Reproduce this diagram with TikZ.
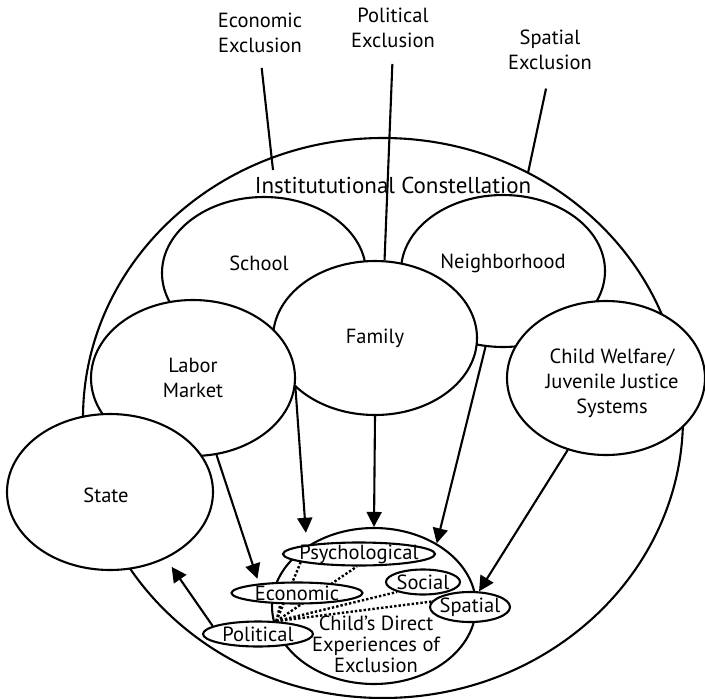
\documentclass[tikz,border=0pt]{standalone}
\usepackage{fontspec}
\setmainfont{PT Sans}
\usetikzlibrary{shapes.geometric,arrows.meta}
\pgfdeclarelayer{back}
\pgfdeclarelayer{mid}
\pgfsetlayers{back,mid,main}
\begin{document}
\begin{tikzpicture}[x=1pt,y=-1pt,
  every node/.style={font=\fontsize{20.5}{25}\selectfont},
  circ/.style={ellipse, draw, line width=2.1pt, fill=white, inner sep=0pt, align=center},
  sub/.style={ellipse, draw, line width=2.1pt, fill=white, inner sep=0pt},
  lbl/.style={align=center},
  toplbl/.style={align=center, inner sep=0pt, anchor=south},
  arr/.style={line width=2.1pt, -{Triangle[length=15pt,width=15pt]}},
  dots/.style={line width=2.4pt, dotted},
  plain/.style={line width=2.1pt}]

\useasboundingbox (0,0) rectangle (705,699);

\begin{pgfonlayer}{back}
\node[circ, fill=none, minimum width=600pt, minimum height=560pt] (inst) at (383,418) {};
\node[circ, minimum width=204pt, minimum height=152pt] (school) at (264,273) {};
\node[circ, minimum width=204pt, minimum height=152pt] (nbh) at (503,271) {};
\node[circ, minimum width=204pt, minimum height=154pt] (fam) at (375,338) {Family};
\node[circ, minimum width=204pt, minimum height=156pt] (lm) at (193,378) {Labor\\Market};
\node[circ, minimum width=198pt, minimum height=154pt] (cw) at (606,378) {};
\node[circ, minimum width=206pt, minimum height=156pt] (state) at (110,492) {};
\node[circ, minimum width=204pt, minimum height=156pt] (child) at (374,606) {};
\node[lbl] (schooltxt) at (259,263) {School};
\node[lbl] (nbhtxt) at (503,263) {Neighborhood};
\node[lbl] (cwtxt) at (612,383) {Child Welfare/\\Juvenile Justice\\Systems};
\node[lbl] (statetxt) at (106,495) {State};
\node[lbl, font=\fontsize{20.5}{21}\selectfont] (childtxt) at (376,644) {Child’s Direct\\Experiences of\\Exclusion};
\end{pgfonlayer}

\node[sub, minimum width=152pt, minimum height=23pt] (psy) at (359,554) {};
\node[sub, minimum width=131pt, minimum height=21pt] (econ) at (297,593) {};
\node[sub, minimum width=74pt, minimum height=25pt] (soc) at (423,582) {};
\node[sub, minimum width=80pt, minimum height=30pt] (spat) at (470,607) {};
\node[sub, minimum width=110pt, minimum height=25pt] (pol) at (258,634) {};
\node (psytxt) at (psy) {Psychological};
\node (econtxt) at (econ) {Economic};
\node (soctxt) at (soc) {Social};
\node (spattxt) at (spat) {Spatial};
\node (poltxt) at (pol) {Political};

\begin{pgfonlayer}{mid}
\draw[dots] (pol.35) -- (econ.-146);
\draw[dots] (pol.35) -- (psy.-172);
\draw[dots] (pol.35) -- (psy.-100);
\draw[dots] (pol.35) -- (soc.-159);
\draw[dots] (pol.35) -- (spat.172);
\end{pgfonlayer}

\node[toplbl] (econlbl) at (260,53) {Economic\\Exclusion};
\node[toplbl] (pollbl) at (393,48) {Political\\Exclusion};
\node[toplbl] (spatlbl) at (550,70) {Spatial\\Exclusion};
\node (insttxt) at (393,185) {\fontsize{23}{27}\selectfont Institututional Constellation};

\coordinate (econend) at (273,170);
\coordinate (spatend) at (528,173);
\draw[plain, shorten <=15pt] (econlbl.south) -- (econend);
\draw[plain, shorten <=16pt] (pollbl.south) -- (fam.83);
\draw[plain, shorten <=19pt] (spatlbl.south) -- (spatend);

\draw[arr, shorten >=5pt] (lm.-73) -- (econ.166);
\draw[arr, shorten >=12pt] (lm.-5) -- (psy.170);
\draw[arr] (fam.south) -- (child.north);
\draw[arr] (nbh.-103) -- (child.45);
\draw[arr] (cw.-118) -- (spat.60);
\draw[arr, shorten >=10pt] (pol.170) -- (state.-50);
\end{tikzpicture}
\end{document}
